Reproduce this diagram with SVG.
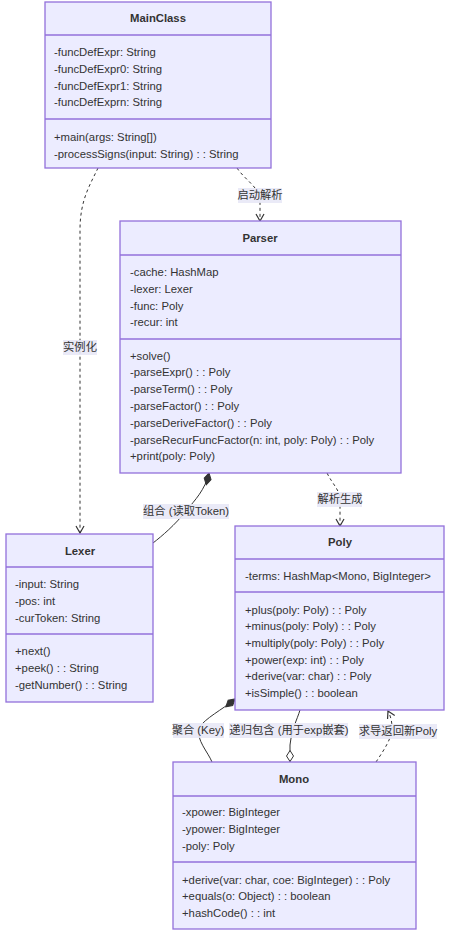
<svg xmlns="http://www.w3.org/2000/svg" width="450" height="930" viewBox="0 0 450 930">
<style>
.box{fill:#ECECFF;stroke:#9370DB;stroke-width:1.3}
.div{stroke:#9370DB;stroke-width:1.3}
text{font-family:"Liberation Sans","Noto Sans CJK SC",sans-serif;font-size:11.3px;fill:#333;dominant-baseline:central}
.title{font-weight:bold;text-anchor:middle}
.edge{fill:none;stroke:#333;stroke-width:1}
.dash{stroke-dasharray:3,3}
.lbg{fill:#E8E8F6;opacity:0.9}
.lbl{text-anchor:middle}
</style>
<defs>
<marker id="fdia" markerUnits="userSpaceOnUse" markerWidth="14" markerHeight="10" refX="0" refY="5" orient="auto" viewBox="0 0 14 10"><path d="M0,5 L6,1.5 L12,5 L6,8.5 Z" fill="#333" stroke="#333" stroke-width="1"/></marker>
<marker id="odia" markerUnits="userSpaceOnUse" markerWidth="14" markerHeight="10" refX="0" refY="5" orient="auto" viewBox="0 0 14 10"><path d="M0.5,5 L6,1.5 L11.5,5 L6,8.5 Z" fill="#fff" stroke="#333" stroke-width="1"/></marker>
<marker id="arr" markerUnits="userSpaceOnUse" markerWidth="10" markerHeight="10" refX="9" refY="5" orient="auto" viewBox="0 0 10 10"><path d="M2,1 L9,5 L2,9" fill="none" stroke="#333" stroke-width="1.2"/></marker>
</defs>

<g id="connectors">
<path class="edge dash" d="M98,168 C90,185 80,200 80,230 L80,533" marker-end="url(#arr)"/>
<path class="edge dash" d="M237,168 C245,180 260,188 260,200 L260,221" marker-end="url(#arr)"/>
<path class="edge" d="M209,473 C205,490 195,500 186,511 C175,525 162,536 153,543" marker-start="url(#fdia)"/>
<path class="edge dash" d="M327,473 C333,485 340,490 340,500 L340,526" marker-end="url(#arr)"/>
<path class="edge" d="M235,699 C222,710 205,718 199,728 C196,740 208,752 212,762" marker-start="url(#fdia)"/>
<path class="edge" d="M290,762 L290,745 C292,728 297,720 300,710" marker-start="url(#odia)"/>
<path class="edge dash" d="M376,762 C384,750 392,738 392,728 C392,720 390,715 388,711" marker-end="url(#arr)"/>
<rect class="lbg" x="63" y="340" width="34" height="15"/>
<text class="lbl" x="80" y="347">实例化</text>
<rect class="lbg" x="238" y="188" width="44" height="15"/>
<text class="lbl" x="260" y="195">启动解析</text>
<rect class="lbg" x="143" y="504" width="86" height="15"/>
<text class="lbl" x="186" y="511">组合 (读取Token)</text>
<rect class="lbg" x="317" y="492" width="45" height="15"/>
<text class="lbl" x="340" y="499">解析生成</text>
<rect class="lbg" x="173" y="723" width="51" height="15"/>
<text class="lbl" x="198" y="730">聚合 (Key)</text>
<rect class="lbg" x="229" y="723" width="119" height="15"/>
<text class="lbl" x="289" y="730">递归包含 (用于exp嵌套)</text>
<rect class="lbg" x="359" y="724" width="78" height="15"/>
<text class="lbl" x="398" y="731">求导返回新Poly</text>
</g>

<g id="MainClass">
<rect class="box" x="45" y="2" width="226" height="166"/>
<line class="div" x1="45" y1="35" x2="271" y2="35"/>
<line class="div" x1="45" y1="119" x2="271" y2="119"/>
<text class="title" x="158" y="18">MainClass</text>
<text x="54" y="52">-funcDefExpr: String</text>
<text x="54" y="69">-funcDefExpr0: String</text>
<text x="54" y="86">-funcDefExpr1: String</text>
<text x="54" y="102">-funcDefExprn: String</text>
<text x="54" y="137">+main(args: String[])</text>
<text x="54" y="154">-processSigns(input: String) : : String</text>
</g>

<g id="Parser">
<rect class="box" x="120" y="221" width="281" height="252"/>
<line class="div" x1="120" y1="255" x2="401" y2="255"/>
<line class="div" x1="120" y1="339" x2="401" y2="339"/>
<text class="title" x="260" y="238">Parser</text>
<text x="130" y="272">-cache: HashMap</text>
<text x="130" y="289">-lexer: Lexer</text>
<text x="130" y="306">-func: Poly</text>
<text x="130" y="322">-recur: int</text>
<text x="130" y="356">+solve()</text>
<text x="130" y="372">-parseExpr() : : Poly</text>
<text x="130" y="389">-parseTerm() : : Poly</text>
<text x="130" y="406">-parseFactor() : : Poly</text>
<text x="130" y="423">-parseDeriveFactor() : : Poly</text>
<text x="130" y="440">-parseRecurFuncFactor(n: int, poly: Poly) : : Poly</text>
<text x="130" y="456">+print(poly: Poly)</text>
</g>

<g id="Lexer">
<rect class="box" x="6" y="534" width="147" height="168"/>
<line class="div" x1="6" y1="567" x2="153" y2="567"/>
<line class="div" x1="6" y1="634" x2="153" y2="634"/>
<text class="title" x="80" y="551">Lexer</text>
<text x="15" y="584">-input: String</text>
<text x="15" y="601">-pos: int</text>
<text x="15" y="618">-curToken: String</text>
<text x="15" y="651">+next()</text>
<text x="15" y="668">+peek() : : String</text>
<text x="15" y="685">-getNumber() : : String</text>
</g>

<g id="Poly">
<rect class="box" x="235" y="526" width="209" height="184"/>
<line class="div" x1="235" y1="559" x2="444" y2="559"/>
<line class="div" x1="235" y1="592" x2="444" y2="592"/>
<text class="title" x="340" y="542">Poly</text>
<text x="245" y="576">-terms: HashMap&lt;Mono, BigInteger&gt;</text>
<text x="245" y="610">+plus(poly: Poly) : : Poly</text>
<text x="245" y="626">+minus(poly: Poly) : : Poly</text>
<text x="245" y="643">+multiply(poly: Poly) : : Poly</text>
<text x="245" y="660">+power(exp: int) : : Poly</text>
<text x="245" y="676">+derive(var: char) : : Poly</text>
<text x="245" y="693">+isSimple() : : boolean</text>
</g>

<g id="Mono">
<rect class="box" x="173" y="762" width="243" height="167"/>
<line class="div" x1="173" y1="796" x2="416" y2="796"/>
<line class="div" x1="173" y1="862" x2="416" y2="862"/>
<text class="title" x="294" y="779">Mono</text>
<text x="182" y="812">-xpower: BigInteger</text>
<text x="182" y="829">-ypower: BigInteger</text>
<text x="182" y="846">-poly: Poly</text>
<text x="182" y="880">+derive(var: char, coe: BigInteger) : : Poly</text>
<text x="182" y="896">+equals(o: Object) : : boolean</text>
<text x="182" y="913">+hashCode() : : int</text>
</g>
</svg>
